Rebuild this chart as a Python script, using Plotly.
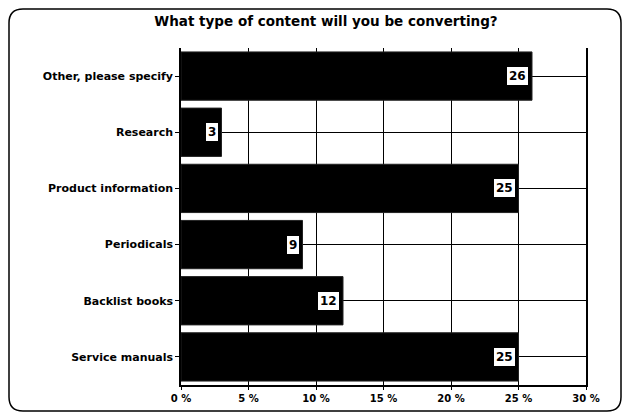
import plotly.graph_objects as go

categories = ["Other, please specify", "Research", "Product information",
              "Periodicals", "Backlist books", "Service manuals"]
values = [26, 3, 25, 9, 12, 25]
tick_vals = [0, 5, 10, 15, 20, 25, 30]
tick_text = ["0 %", "5 %", "10 %", "15 %", "20 %", "25 %", "30 %"]
title_text = "What type of content will you be converting?"

FONT = "DejaVu Sans"
W, H = 627, 417
ml, mr, mt, mb = 181, 41, 48, 32
pw, ph = W - ml - mr, H - mt - mb

def px(x):
    return (x - ml) / pw

def py(y):
    return (H - mb - y) / ph

fig = go.Figure()
fig.add_trace(go.Bar(
    x=values, y=categories, orientation="h",
    marker=dict(color="#000000", line=dict(color="#222222", width=1)),
    hoverinfo="skip",
))

annotations = []
for c, v in zip(categories, values):
    annotations.append(dict(
        x=v, y=c, xref="x", yref="y", text="<b>%d</b>" % v,
        showarrow=False, xanchor="right", xshift=-3,
        font=dict(family=FONT, size=12, color="#000000"),
        bgcolor="#ffffff", bordercolor="#000000", borderwidth=1, borderpad=2,
    ))

# rounded frame around the whole chart
x0, x1, y0, y1, r = 9, 621, 9, 411, 14
path = (
    f"M {px(x0 + r)},{py(y0)} L {px(x1 - r)},{py(y0)} "
    f"Q {px(x1)},{py(y0)} {px(x1)},{py(y0 + r)} "
    f"L {px(x1)},{py(y1 - r)} Q {px(x1)},{py(y1)} {px(x1 - r)},{py(y1)} "
    f"L {px(x0 + r)},{py(y1)} Q {px(x0)},{py(y1)} {px(x0)},{py(y1 - r)} "
    f"L {px(x0)},{py(y0 + r)} Q {px(x0)},{py(y0)} {px(x0 + r)},{py(y0)} Z"
)

fig.update_layout(
    width=W, height=H,
    margin=dict(l=ml, r=mr, t=mt, b=mb),
    paper_bgcolor="#ffffff", plot_bgcolor="#ffffff",
    showlegend=False,
    bargap=0.14,
    title=dict(text="<b>" + title_text + "</b>", x=326 / W, xanchor="center",
               y=1 - 21 / H, yanchor="middle",
               font=dict(family=FONT, size=13.5, color="#000000")),
    font=dict(family=FONT, color="#000000"),
    annotations=annotations,
    shapes=[dict(type="path", xref="paper", yref="paper", path=path,
                 line=dict(color="#000000", width=1.5), layer="above")],
)
fig.update_xaxes(
    range=[0, 30], tickvals=tick_vals, ticktext=["<b>%s</b>" % t for t in tick_text],
    showgrid=True, gridcolor="#000000", gridwidth=1,
    showline=True, linecolor="#000000", linewidth=2,
    ticks="outside", ticklen=3, tickcolor="#000000",
    tickfont=dict(family=FONT, size=10, color="#000000"),
    zeroline=False, fixedrange=True,
)
fig.update_yaxes(
    categoryorder="array", categoryarray=categories[::-1],
    tickvals=categories, ticktext=["<b>%s</b>" % c for c in categories],
    showgrid=True, gridcolor="#000000", gridwidth=1,
    showline=True, linecolor="#000000", linewidth=1.5, mirror=True,
    ticks="outside", ticklen=4, tickcolor="#000000",
    tickfont=dict(family=FONT, size=11, color="#000000"),
    fixedrange=True,
)

fig.write_html("out.html")
